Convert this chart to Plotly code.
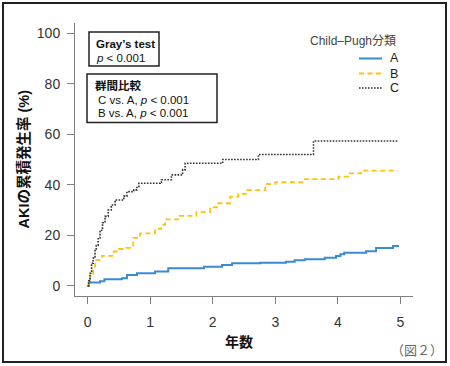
import plotly.graph_objects as go

# ---------------- data ----------------
years_A = [0, 0.02, 0.20, 0.27, 0.55, 0.63, 0.79, 1.08, 1.29, 1.86, 2.15, 2.31, 2.76,
           3.17, 3.31, 3.47, 3.79, 3.97, 4.04, 4.10, 4.45, 4.61, 4.88, 4.96]
aki_A = [0, 1.3, 1.8, 2.6, 3.0, 4.3, 5.0, 5.7, 7.0, 7.6, 8.3, 9.0, 9.2,
         9.5, 10.1, 10.5, 11.1, 11.8, 12.5, 13.1, 13.7, 15.0, 15.8, 16.1]

years_B = [0, 0.02, 0.04, 0.09, 0.12, 0.23, 0.42, 0.50, 0.62, 0.73, 0.84, 1.08, 1.18,
           1.24, 1.45, 1.74, 1.96, 2.07, 2.28, 2.41, 2.55, 2.84, 3.00, 3.45, 4.01,
           4.17, 4.37, 4.96]
aki_B = [0, 2.0, 3.7, 7.6, 10.3, 11.9, 13.6, 14.6, 15.0, 19.0, 20.8, 22.6, 24.1,
         26.3, 27.7, 29.2, 31.1, 32.7, 35.3, 36.4, 37.9, 40.3, 41.0, 42.2, 43.2,
         44.5, 45.6, 45.6]

years_C = [0, 0.02, 0.04, 0.065, 0.09, 0.12, 0.14, 0.17, 0.20, 0.24, 0.28, 0.33, 0.38,
           0.44, 0.58, 0.63, 0.74, 0.79, 0.82, 1.16, 1.18, 1.34, 1.52, 1.56, 2.16,
           2.73, 3.61, 4.96]
aki_C = [0, 2.0, 5.0, 9.0, 11.0, 14.0, 16.0, 19.0, 22.0, 25.0, 27.5, 30.0, 32.0,
         34.0, 35.5, 37.3, 38.0, 39.3, 40.6, 41.0, 42.0, 43.9, 46.0, 48.5, 50.0,
         52.0, 57.3, 57.3]

groups = ["A", "B", "C"]
colors = ["#3a8ad6", "#ffc20e", "#333333"]
dashes = ["solid", "5px,3.5px", "1.6px,1.4px"]
widths = [2.0, 1.8, 1.6]

x_ticks = [0, 1, 2, 3, 4, 5]
y_ticks = [0, 20, 40, 60, 80, 100]

# ---------------- layout geometry (pixels) ----------------
W, H = 450, 366
L, R, T, B = 75, 413, 23, 296   # plot area edges in pixels


def px(x):
    return (x - L) / (R - L)


def py(y):
    return (B - y) / (B - T)


FONT = "Arial, 'Liberation Sans', 'Noto Sans CJK JP', sans-serif"

fig = go.Figure()
for name, xs, ys, c, d, w in zip(groups, [years_A, years_B, years_C],
                                 [aki_A, aki_B, aki_C], colors, dashes, widths):
    fig.add_trace(go.Scatter(x=xs, y=ys, mode="lines", name=name,
                             line=dict(color=c, dash=d, width=w, shape="hv"),
                             showlegend=False))

axis_common = dict(showgrid=False, zeroline=False, showline=True, linecolor="#808080",
                   linewidth=1, ticks="outside", ticklen=7, tickcolor="#808080",
                   tickfont=dict(size=14, color="#333333", family=FONT))
fig.update_xaxes(range=[-0.2, 5.2], tickvals=x_ticks, ticklabelstandoff=6, **axis_common)
fig.update_yaxes(range=[-4, 104], tickvals=y_ticks, ticklabelstandoff=4, **axis_common)

shapes = []
# outer frame
shapes.append(dict(type="rect", xref="paper", yref="paper",
                   x0=px(3), x1=px(446), y0=py(362), y1=py(3),
                   line=dict(color="#222222", width=2)))
# stats boxes
shapes.append(dict(type="rect", xref="paper", yref="paper",
                   x0=px(89), x1=px(159), y0=py(66), y1=py(32),
                   line=dict(color="#222222", width=1.5)))
shapes.append(dict(type="rect", xref="paper", yref="paper",
                   x0=px(87), x1=px(217), y0=py(122.5), y1=py(74),
                   line=dict(color="#222222", width=1.5)))
# legend line samples
for yy, c, d, w in zip([58.5, 73.5, 88], colors, dashes, widths):
    shapes.append(dict(type="line", xref="paper", yref="paper",
                       x0=px(359), x1=px(382), y0=py(yy), y1=py(yy),
                       line=dict(color=c, dash=d, width=w)))

ann = []


def text(x, y, s, size=11.5, color="#111111", xanchor="left", **kw):
    ann.append(dict(x=px(x), y=py(y), xref="paper", yref="paper", text=s,
                    showarrow=False, xanchor=xanchor, yanchor="middle",
                    font=dict(size=size, color=color, family=FONT), **kw))


text(94, 44, "<b>Gray’s test</b>")
text(94, 57.5, "<i>p</i> &lt; 0.001")
text(92.5, 85, "<b>群間比較</b>")
text(96, 99.5, "C vs. A, <i>p</i> &lt; 0.001")
text(96, 113, "B vs. A, <i>p</i> &lt; 0.001")

text(307.5, 40.5, "Child–Pugh分類", size=12, color="#444444")
for yy, g in zip([58.5, 73.5, 88], groups):
    text(388, yy, g, size=12.5, color="#222222")

text(23, 159.5, "<b>AKIの累積発生率 (%)</b>", size=14.5, color="#111111",
     xanchor="center", textangle=-90)
text(239, 342, "<b>年数</b>", size=14, color="#111111", xanchor="center")
text(445, 350, "（図２）", size=13, color="#666666", xanchor="right")

fig.update_layout(width=W, height=H, autosize=False,
                  margin=dict(l=L, r=W - R, t=T, b=H - B, pad=0),
                  paper_bgcolor="white", plot_bgcolor="white",
                  shapes=shapes, annotations=ann, showlegend=False,
                  font=dict(family=FONT))

fig.write_html("out.html", config={"displayModeBar": False},
               post_script="document.body.style.margin='0';document.body.style.padding='0';")
